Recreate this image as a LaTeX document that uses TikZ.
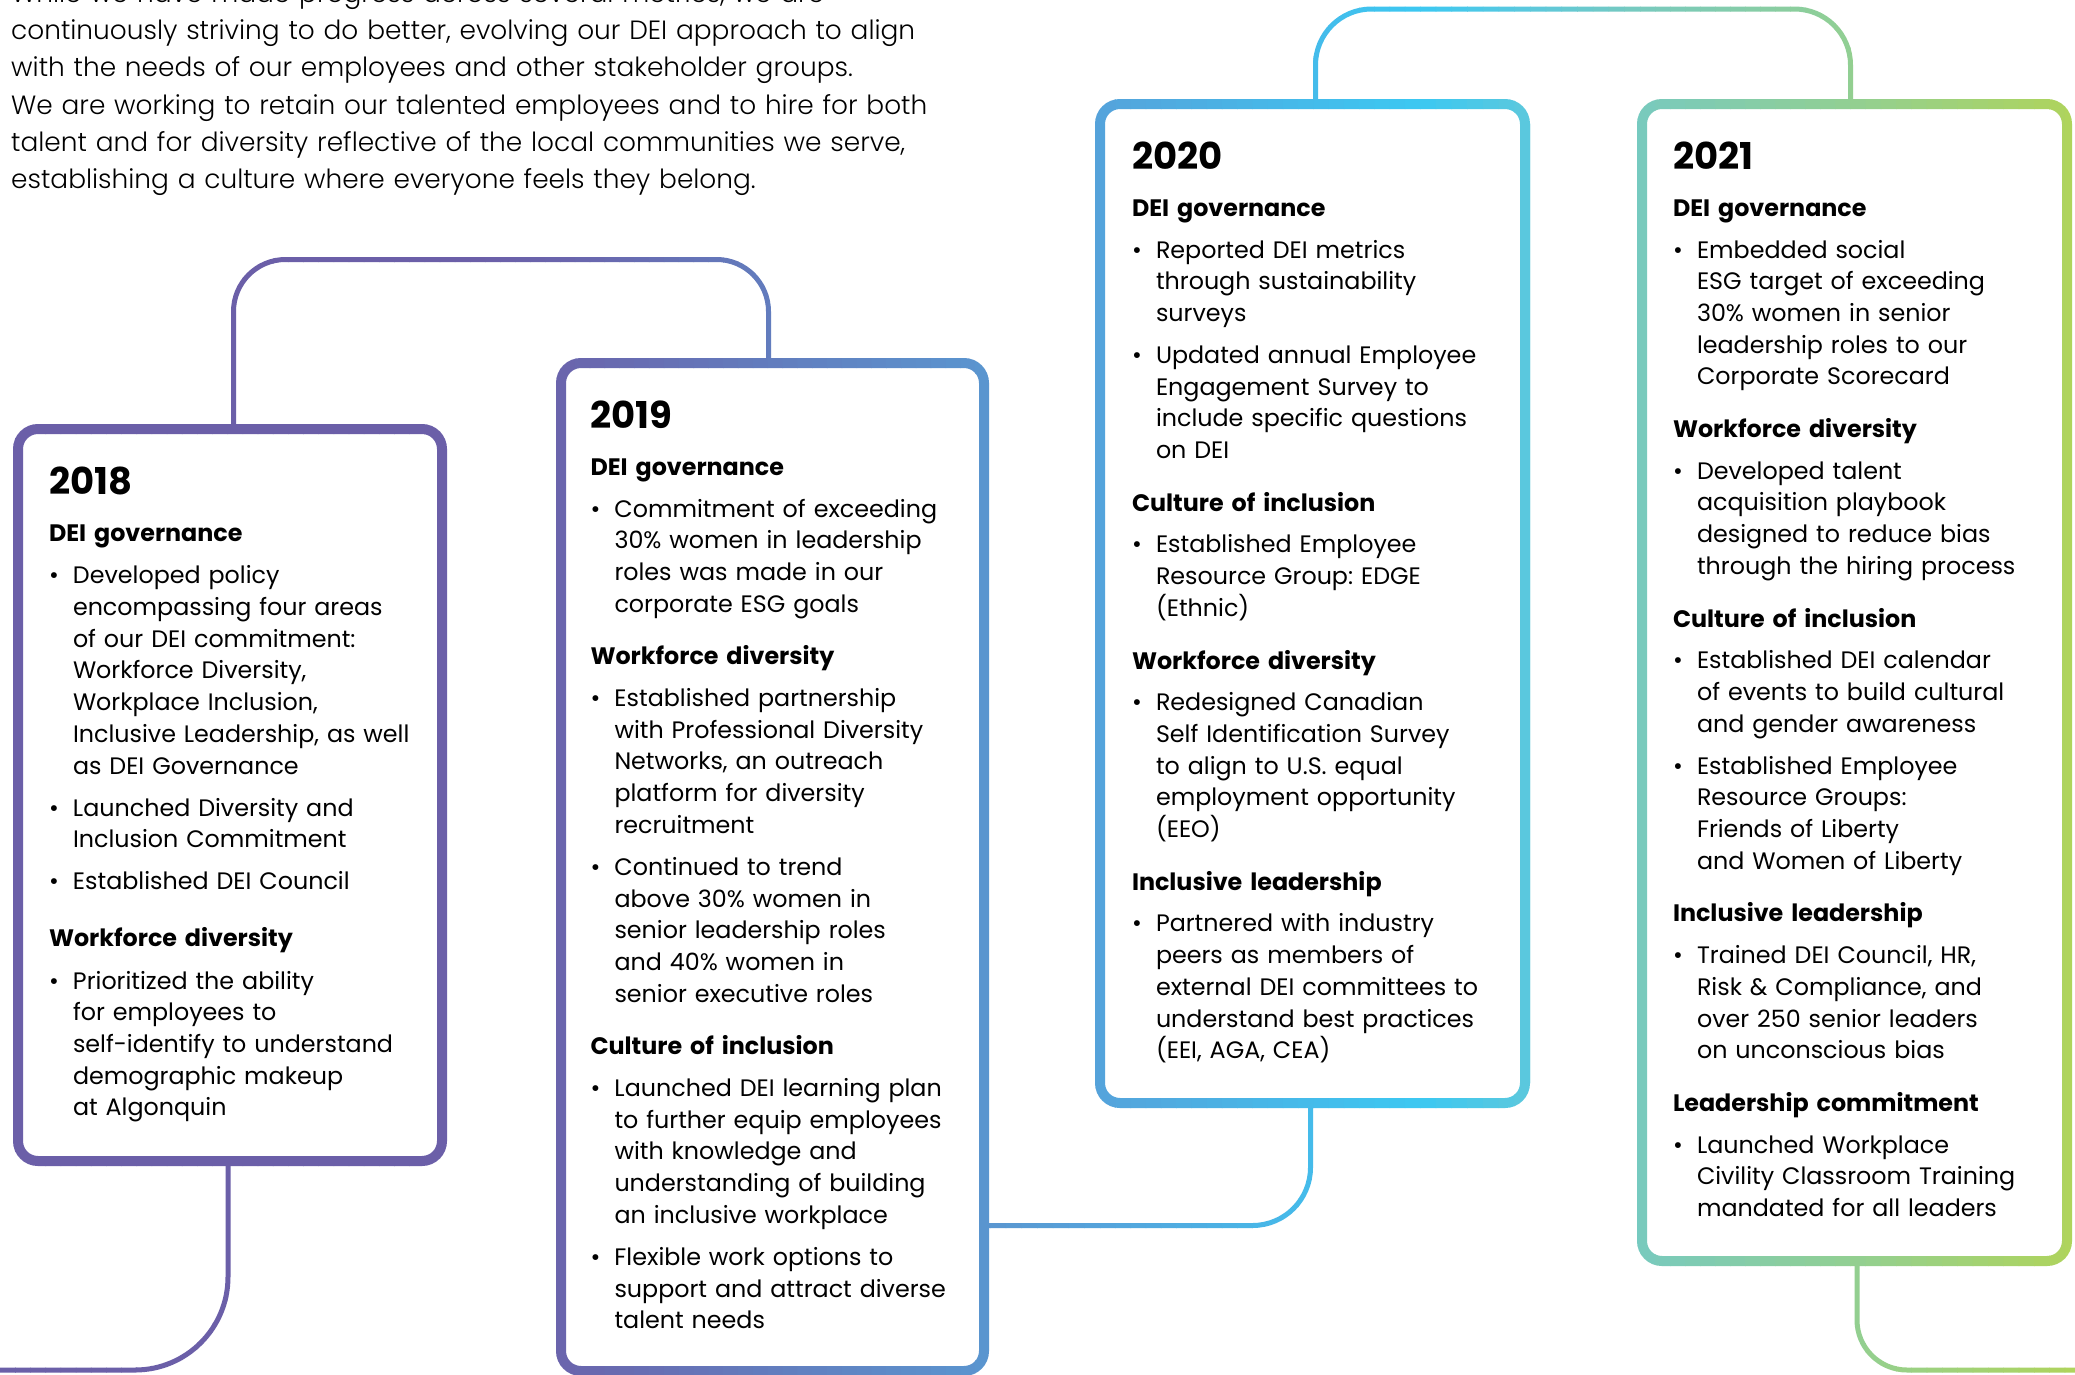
\documentclass[tikz,border=0pt]{standalone}
\usepackage{fontspec}
\setmainfont{Poppins}
\IfFontExistsTF{Poppins Light}{\newfontfamily\introfont{Poppins Light}}{\newfontfamily\introfont{Poppins}}
\usetikzlibrary{calc}

\definecolor{g0}{RGB}{107,95,168}
\definecolor{g1}{RGB}{107,95,168}
\definecolor{g2}{RGB}{106,100,172}
\definecolor{g3}{RGB}{90,150,208}
\definecolor{g4}{RGB}{85,163,219}
\definecolor{g5}{RGB}{60,200,242}
\definecolor{g6}{RGB}{92,200,220}
\definecolor{g7}{RGB}{120,202,190}
\definecolor{g8}{RGB}{146,207,146}
\definecolor{g9}{RGB}{176,212,90}

\newcommand\yrx[1]{{\fontsize{37}{37}\selectfont\bfseries #1}}
\newcommand\hdx[1]{{\bfseries #1}}
\newcommand\blt{\makebox[24pt][l]{\textbullet}}
\newcommand\ndt{\hspace*{24pt}}

\tikzset{
  boxn/.style={rectangle, inner sep=0pt, outer sep=0pt},
  boxframe/.style={line width=10pt, rounded corners=20pt},
  linkline/.style={line width=5pt},
  txt/.style={anchor=north west, inner sep=0pt, outer sep=0pt, align=left,
    font=\fontsize{23.8}{31.7}\selectfont\frenchspacing, text width=#1},
}

\newcommand\drawframes[1]{%
  \draw[boxframe,#1] (b2018.north west) rectangle (b2018.south east);
  \draw[boxframe,#1] (b2019.north west) rectangle (b2019.south east);
  \draw[boxframe,#1] (b2020.north west) rectangle (b2020.south east);
  \draw[boxframe,#1] (b2021.north west) rectangle (b2021.south east);
  \draw[linkline,#1,rounded corners=93pt] (p0) |- (e0);
  \draw[linkline,#1,rounded corners=52pt] (p1) -- (p1 |- top1) -- (q1 |- top1) -- (q1);
  \draw[linkline,#1,rounded corners=58pt] (p2) -| (q2);
  \draw[linkline,#1,rounded corners=56pt] (p3) -- (p3 |- top3) -- (q3 |- top3) -- (q3);
  \draw[linkline,#1,rounded corners=50pt] (p4) |- (e4);
}

\begin{document}
\begin{tikzpicture}[x=1pt,y=-1pt]
\useasboundingbox (0,0) rectangle (2075,1374);
\clip (0,0) rectangle (2075,1374);
\fill[white] (0,0) rectangle (2075,1374);

% box geometry (centre line of the frames)
\node[boxn, minimum width=424pt, minimum height=732pt] (b2018) at (230,795) {};
\node[boxn, minimum width=423pt, minimum height=1008pt] (b2019) at (772.5,867) {};
\node[boxn, minimum width=425pt, minimum height=999pt] (b2020) at (1312.5,603.5) {};
\node[boxn, minimum width=425pt, minimum height=1157pt] (b2021) at (1854.5,682.5) {};

% connector end points
\coordinate (p0) at ([xshift=210pt]b2018.south west);
\coordinate (e0) at (-10,1370);
\coordinate (p1) at ([xshift=215.5pt]b2018.north west);
\coordinate (q1) at ([xshift=207.5pt]b2019.north west);
\coordinate (top1) at (0,259.5);
\coordinate (p2) at ([yshift=-358.5pt]b2019.east);
\coordinate (q2) at ([xshift=-2pt]b2020.south);
\coordinate (p3) at ([xshift=215.5pt]b2020.north west);
\coordinate (q3) at ([xshift=208.5pt]b2021.north west);
\coordinate (top3) at (0,9);
\coordinate (p4) at ([xshift=215pt]b2021.south west);
\coordinate (e4) at (2090,1370);

% gradient strokes, drawn strip by strip
\foreach \xa/\xb/\ca/\cb in {0/470/g0/g1, 470/560/g1/g2, 560/990/g2/g3, 990/1100/g3/g4,
   1100/1420/g4/g5, 1420/1530/g5/g6, 1530/1640/g6/g7, 1640/1850/g7/g8, 1850/2080/g8/g9}{
  \pgfmathtruncatemacro\nn{max(1,round((\xb-\xa)/15))}
  \foreach \i in {1,...,\nn}{
    \pgfmathsetmacro\xl{\xa+(\i-1)*(\xb-\xa)/\nn}
    \pgfmathsetmacro\xr{\xa+\i*(\xb-\xa)/\nn+0.6}
    \pgfmathsetmacro\pc{100*(\i-0.5)/\nn}
    \colorlet{stripc}{\cb!\pc!\ca}
    \begin{scope}
      \clip (\xl,-10) rectangle (\xr,1390);
      \drawframes{stripc}
    \end{scope}
  }
}

% intro text
\node[anchor=north west, inner sep=0pt, align=left, text width=1000pt,
  font=\introfont\fontsize{26.4}{37.3}\selectfont\frenchspacing] (intro) at (11,-17.7)
{While we have made progress across several metrics, we are\\
continuously striving to do better, evolving our DEI approach to align\\
with the needs of our employees and other stakeholder groups.\\
We are working to retain our talented employees and to hire for both\\
talent and for diversity reflective of the local communities we serve,\\
establishing a culture where everyone feels they belong.};

% 2018
\node[txt=400pt] (t2018) at (49,467) {\yrx{2018}\\[15pt]
\hdx{DEI governance}\\[10.8pt]
\blt Developed policy\\
\ndt encompassing four areas\\
\ndt of our DEI commitment:\\
\ndt Workforce Diversity,\\
\ndt Workplace Inclusion,\\
\ndt Inclusive Leadership, as well\\
\ndt as DEI Governance\\[10.4pt]
\blt Launched Diversity and\\
\ndt Inclusion Commitment\\[10.4pt]
\blt Established DEI Council\\[25pt]
\hdx{Workforce diversity}\\[10.8pt]
\blt Prioritized the ability\\
\ndt for employees to\\
\ndt self-identify to understand\\
\ndt demographic makeup\\
\ndt at Algonquin};

% 2019
\node[txt=400pt] (t2019) at (590.5,401) {\yrx{2019}\\[15pt]
\hdx{DEI governance}\\[10pt]
\blt Commitment of exceeding\\
\ndt 30\% women in leadership\\
\ndt roles was made in our\\
\ndt corporate ESG goals\\[21pt]
\hdx{Workforce diversity}\\[10pt]
\blt Established partnership\\
\ndt with Professional Diversity\\
\ndt Networks, an outreach\\
\ndt platform for diversity\\
\ndt recruitment\\[10.3pt]
\blt Continued to trend\\
\ndt above 30\% women in\\
\ndt senior leadership roles\\
\ndt and 40\% women in\\
\ndt senior executive roles\\[21pt]
\hdx{Culture of inclusion}\\[10pt]
\blt Launched DEI learning plan\\
\ndt to further equip employees\\
\ndt with knowledge and\\
\ndt understanding of building\\
\ndt an inclusive workplace\\[10.3pt]
\blt Flexible work options to\\
\ndt support and attract diverse\\
\ndt talent needs};

% 2020
\node[txt=400pt] (t2020) at (1132,142) {\yrx{2020}\\[15pt]
\hdx{DEI governance}\\[10pt]
\blt Reported DEI metrics\\
\ndt through sustainability\\
\ndt surveys\\[10.3pt]
\blt Updated annual Employee\\
\ndt Engagement Survey to\\
\ndt include specific questions\\
\ndt on DEI\\[21pt]
\hdx{Culture of inclusion}\\[10pt]
\blt Established Employee\\
\ndt Resource Group: EDGE\\
\ndt (Ethnic)\\[21pt]
\hdx{Workforce diversity}\\[10pt]
\blt Redesigned Canadian\\
\ndt Self Identification Survey\\
\ndt to align to U.S. equal\\
\ndt employment opportunity\\
\ndt (EEO)\\[21pt]
\hdx{Inclusive leadership}\\[10pt]
\blt Partnered with industry\\
\ndt peers as members of\\
\ndt external DEI committees to\\
\ndt understand best practices\\
\ndt (EEI, AGA, CEA)};

% 2021
\node[txt=400pt] (t2021) at (1673,142) {\yrx{2021}\\[15pt]
\hdx{DEI governance}\\[10pt]
\blt Embedded social\\
\ndt ESG target of exceeding\\
\ndt 30\% women in senior\\
\ndt leadership roles to our\\
\ndt Corporate Scorecard\\[21pt]
\hdx{Workforce diversity}\\[10pt]
\blt Developed talent\\
\ndt acquisition playbook\\
\ndt designed to reduce bias\\
\ndt through the hiring process\\[21pt]
\hdx{Culture of inclusion}\\[10pt]
\blt Established DEI calendar\\
\ndt of events to build cultural\\
\ndt and gender awareness\\[10.3pt]
\blt Established Employee\\
\ndt Resource Groups:\\
\ndt Friends of Liberty\\
\ndt and Women of Liberty\\[21pt]
\hdx{Inclusive leadership}\\[10pt]
\blt Trained DEI Council, HR,\\
\ndt Risk \& Compliance, and\\
\ndt over 250 senior leaders\\
\ndt on unconscious bias\\[21pt]
\hdx{Leadership commitment}\\[10pt]
\blt Launched Workplace\\
\ndt Civility Classroom Training\\
\ndt mandated for all leaders};
\end{tikzpicture}
\end{document}
